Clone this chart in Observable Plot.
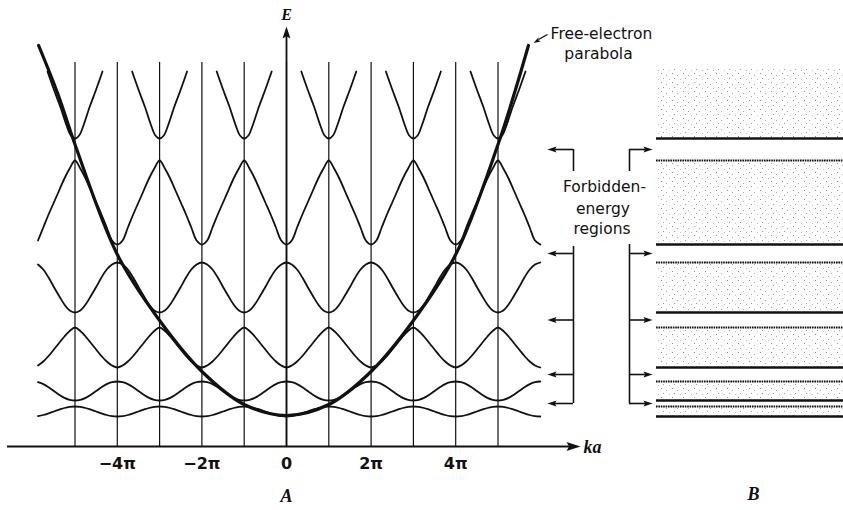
<!DOCTYPE html>
<html><head><meta charset="utf-8">
<script src="https://cdn.jsdelivr.net/npm/d3@7"></script>
<script src="https://cdn.jsdelivr.net/npm/@observablehq/plot@0.6"></script>
<style>body{margin:0;background:#fff} #chart svg{display:block;background:#fff}</style>
</head><body>
<svg width="0" height="0" style="position:absolute"><defs>
<pattern id="stipple" width="11" height="9" patternUnits="userSpaceOnUse">
<rect x="1" y="1" width="1" height="1" fill="#8a8a8a"/>
<rect x="6" y="3" width="1" height="1" fill="#a8a8a8"/>
<rect x="3" y="6" width="1" height="1" fill="#9a9a9a"/>
<rect x="9" y="7" width="1" height="1" fill="#c0c0c0"/>
</pattern></defs></svg>
<div id="chart"></div>
<script>
// ---- data (ka in units of π, energy in arbitrary units) ----
const zoneBoundaries = [-5, -4, -3, -2, -1, 0, 1, 2, 3, 4, 5];
const tickValues = [-4, -2, 0, 2, 4];
const tickLabels = ["−4π", "−2π", "0", "2π", "4π"];

// band profiles: energy at distance (fraction of π) from the band minimum
const profileSteps = [0, 0.125, 0.25, 0.375, 0.5, 0.625, 0.75, 0.875, 1];
const band1 = [30, 30.4, 31.5, 33.2, 35, 36.8, 38.5, 39.6, 40];
const band2 = [46, 46.7, 48.6, 51.8, 55.5, 59.2, 62.4, 64.3, 65];
const band3 = [79, 81, 85, 90.5, 97, 103.5, 110, 115.5, 119];
const band4 = [134, 136, 142, 150.5, 159.5, 169, 177, 182, 184];
const band5 = [202, 206, 219, 232, 244, 256, 268, 278, 286];
const bandMinAtOdd = [false, true, false, true, false];
const bandRangeKa = [-5.875, 6];

// sixth band: only the V-shaped tips around odd multiples of π
const band6Steps = [0, 0.1, 0.2, 0.35, 0.5, 0.65];
const band6 = [308, 311, 321, 340, 357, 375];
const band6Centers = [-5, -3, -1, 1, 3, 5];

// free-electron parabola
const parabolaKa = [-5.86, -5.4, -5, -4, -3, -2, -1, 0, 1, 2, 3, 4, 5, 5.4, 5.72];
const parabolaE  = [401, 352, 302, 192, 126, 75, 42, 31, 42, 75, 126, 192, 302, 355, 401];

// panel B allowed bands (energy ranges)
const allowedLow  = [30, 46, 79, 134, 202, 308];
const allowedHigh = [40, 65, 119, 184, 286, 377];

// ---- build tables ----
const bandProfiles = [band1, band2, band3, band4, band5];
const bandPts = [];
bandProfiles.forEach((prof, i) => {
  const off = bandMinAtOdd[i] ? 1 : 0;
  const m = new Map();
  for (let c = -8 + off; c <= 8; c += 2) {
    profileSteps.forEach((s, j) => {
      for (const k of [c - s, c + s]) {
        if (k >= bandRangeKa[0] - 1e-9 && k <= bandRangeKa[1] + 1e-9)
          m.set(k.toFixed(4), {k, E: prof[j], band: i + 1});
      }
    });
  }
  bandPts.push(...[...m.values()].sort((a, b) => a.k - b.k));
});
const vPts = [];
band6Centers.forEach(c => {
  const pts = [];
  band6Steps.forEach((s, j) => {
    pts.push({k: c - s, E: band6[j], c});
    if (s > 0) pts.push({k: c + s, E: band6[j], c});
  });
  pts.sort((a, b) => a.k - b.k);
  vPts.push(...pts);
});
const parabola = parabolaKa.map((k, i) => ({k, E: parabolaE[i]}));
const bBands = allowedLow.map((lo, i) => ({lo, hi: allowedHigh[i]}));
const gapLevels = allowedHigh.slice(0, -1).map((h, i) => (h + allowedLow[i + 1]) / 2);

// ---- layout ----
const W = 843, H = 510;
const xOrigin = 286, pxPerPi = 42.3;      // pixel position of ka = 0 and size of π
const yAxisPx = 446;                       // pixel position of E = 0
const xDom = [-xOrigin / pxPerPi, (W - xOrigin) / pxPerPi];
const yDom = [yAxisPx - H, yAxisPx];
const X = px => (px - xOrigin) / pxPerPi;  // page px -> ka units (for annotations)
const Y = py => yAxisPx - py;              // page px -> E units

const arrowHead = {draw(ctx, size) {
  const l = Math.sqrt(size / Math.PI) * 2, w = l * 0.33;
  ctx.moveTo(0, 0); ctx.lineTo(w, l); ctx.lineTo(0, l * 0.82); ctx.lineTo(-w, l); ctx.closePath();
}};

const ink = "#111";
const serifBI = {fontFamily: "Liberation Serif", fontWeight: "bold", fontStyle: "italic"};
const sans = {fontFamily: "DejaVu Sans", fontSize: 15.5, fill: ink};

const bx1 = X(656), bx2 = X(860);
const lbx = X(573), rbx = X(629);

const chart = Plot.plot({
  width: W, height: H, margin: 0,
  x: {domain: xDom, axis: null},
  y: {domain: yDom, axis: null},
  marks: [
    // panel B
    Plot.rect(bBands, {x1: bx1, x2: bx2, y1: "lo", y2: "hi", fill: "url(#stipple)"}),
    Plot.ruleY(bBands, {y: "lo", x1: bx1, x2: bx2, stroke: ink, strokeWidth: 2.6}),
    Plot.ruleY(bBands.slice(0, -1), {y: "hi", x1: bx1, x2: bx2, stroke: ink, strokeWidth: 2, strokeDasharray: "1.6,0.8"}),
    // zone boundaries
    Plot.ruleX(zoneBoundaries, {y1: 0, y2: Y(62), stroke: ink, strokeWidth: 1.2}),
    // bands
    Plot.line(bandPts, {x: "k", y: "E", z: "band", curve: "catmull-rom", stroke: ink, strokeWidth: 1.8}),
    Plot.line(vPts, {x: "k", y: "E", z: "c", curve: "catmull-rom", stroke: ink, strokeWidth: 1.8}),
    // free-electron parabola
    Plot.line(parabola, {x: "k", y: "E", curve: "catmull-rom", stroke: ink, strokeWidth: 3.2}),
    // axes
    Plot.ruleY([0], {x1: X(7), x2: X(570), stroke: ink, strokeWidth: 1.8}),
    Plot.ruleX([0], {y1: 0, y2: Y(33), stroke: ink, strokeWidth: 1.8}),
    Plot.dot([0], {x: X(580), y: 0, symbol: arrowHead, r: 7, rotate: 90, fill: ink, stroke: "none"}),
    Plot.dot([0], {x: 0, y: Y(26), symbol: arrowHead, r: 6, rotate: 0, fill: ink, stroke: "none"}),
    Plot.text(tickValues, {x: d => d, y: Y(463.5), text: (d, i) => tickLabels[i], fontFamily: "DejaVu Sans", fontWeight: "bold", fontSize: 16, fill: ink}),
    Plot.text(["E"], {x: 0, y: Y(14), text: d => d, ...serifBI, fontSize: 16, fill: ink}),
    Plot.text(["ka"], {x: X(592), y: Y(447), text: d => d, ...serifBI, fontSize: 18, fill: ink}),
    Plot.text(["A"], {x: 0, y: Y(496), text: d => d, ...serifBI, fontSize: 18, fill: ink}),
    Plot.text(["B"], {x: X(753), y: Y(494), text: d => d, ...serifBI, fontSize: 18, fill: ink}),
    // free-electron label
    Plot.text(["Free-electron"], {x: X(601), y: Y(34), text: d => d, ...sans}),
    Plot.text(["parabola"], {x: X(598), y: Y(53.5), text: d => d, ...sans}),
    Plot.link([0], {x1: X(547), y1: Y(34), x2: X(538), y2: Y(39), stroke: ink, strokeWidth: 1.4}),
    Plot.dot([0], {x: X(533), y: Y(42.5), symbol: arrowHead, r: 3.5, rotate: -120, fill: ink, stroke: "none"}),
    // forbidden-energy brackets
    Plot.text(["Forbidden-"], {x: X(604), y: Y(186.5), text: d => d, ...sans}),
    Plot.text(["energy"], {x: X(602.5), y: Y(209), text: d => d, ...sans}),
    Plot.text(["regions"], {x: X(601.5), y: Y(229), text: d => d, ...sans}),
    Plot.ruleX([lbx, rbx], {y1: gapLevels[4], y2: Y(171), stroke: ink, strokeWidth: 1.6}),
    Plot.ruleX([lbx], {y1: Y(246), y2: gapLevels[0], stroke: ink, strokeWidth: 1.6}),
    Plot.ruleX([rbx], {y1: Y(244), y2: gapLevels[0], stroke: ink, strokeWidth: 1.6}),
    Plot.ruleY(gapLevels, {x1: lbx, x2: X(552), stroke: ink, strokeWidth: 1.6}),
    Plot.ruleY(gapLevels, {x1: rbx, x2: X(646), stroke: ink, strokeWidth: 1.6}),
    Plot.dot(gapLevels, {x: X(547), y: d => d, symbol: arrowHead, r: 4.5, rotate: -90, fill: ink, stroke: "none"}),
    Plot.dot(gapLevels, {x: X(652), y: d => d, symbol: arrowHead, r: 4.5, rotate: 90, fill: ink, stroke: "none"})
  ]
});
document.getElementById("chart").append(chart);
</script>
</body></html>
